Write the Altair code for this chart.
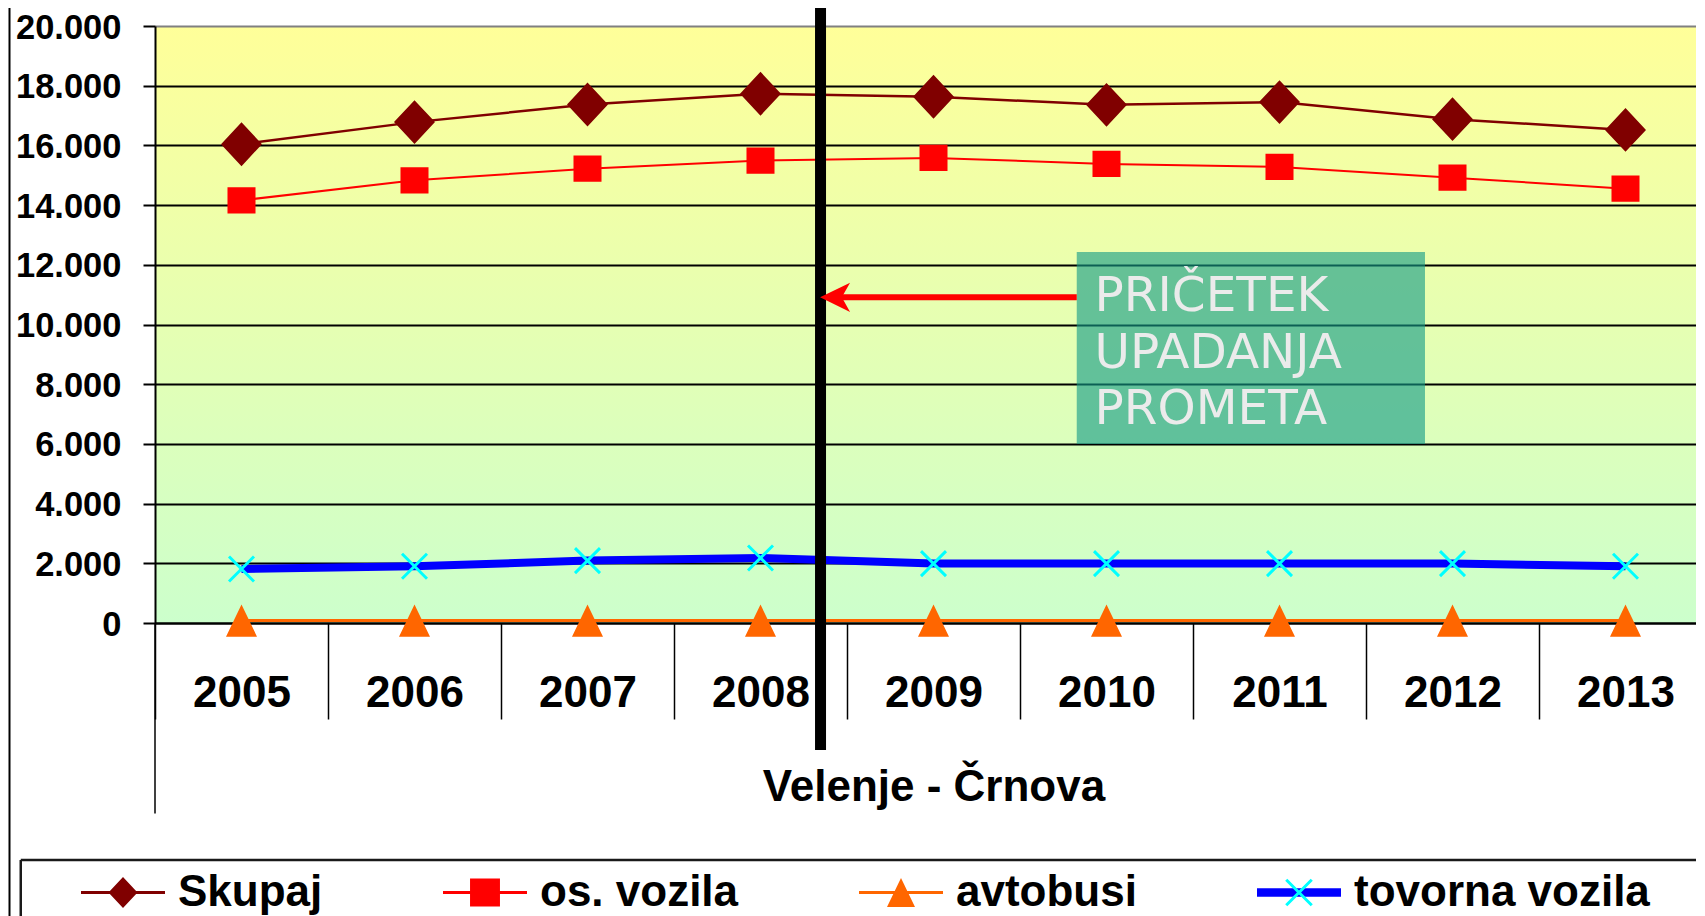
import altair as alt
import pandas as pd

# ---------------- data ----------------
years = ["2005", "2006", "2007", "2008", "2009", "2010", "2011", "2012", "2013"]
series = ["Skupaj", "os. vozila", "avtobusi", "tovorna vozila"]
skupaj = [16040, 16780, 17370, 17730, 17630, 17360, 17450, 16880, 16520]
os_vozila = [14160, 14830, 15220, 15490, 15580, 15380, 15280, 14920, 14550]
avtobusi = [80, 80, 80, 80, 80, 80, 80, 80, 80]
tovorna_vozila = [1810, 1900, 2090, 2180, 1990, 1990, 1990, 1990, 1900]
y_ticks = [0, 2000, 4000, 6000, 8000, 10000, 12000, 14000, 16000, 18000, 20000]
x_title = "Velenje - Črnova"
note_lines = ["PRIČETEK", "UPADANJA", "PROMETA"]

rows = []
for name, vals in zip(series, [skupaj, os_vozila, avtobusi, tovorna_vozila]):
    for yr, v in zip(years, vals):
        rows.append({"leto": yr, "serija": name, "vrednost": v})
df = pd.DataFrame(rows)

# ---------------- style ----------------
FONT = "Liberation Sans"
W, H = 1557, 597
line_colors = ["#800000", "#FF0000", "#FF6600", "#0000FF"]
line_widths = [2.5, 2, 3, 8]
marker_colors = ["#800000", "#FF0000", "#FF6600", "#00FFFF"]

# legend symbol geometry (1 unit = 22 px in the legend)
SPAN = 1.909                               # half length of the legend line swatch
label_reach = [9.058, 11.504, 10.724, 15.948]  # right end of each legend label, in units
guide = f"M{-SPAN},0L{SPAN},0"             # zero-area path part: only widens the bounds


def rect_path(hw, hh):
    return f"M{-hw},{-hh}H{hw}V{hh}H{-hw}Z"


line_paths = [rect_path(SPAN, hh) + f"M{r},0L{r},0"
              for hh, r in zip([0.068, 0.068, 0.068, 0.189], label_reach)]
a, e = 0.58, 0.048
cross = (f"M{-a+e},{-a-e}L{a+e},{a-e}L{a-e},{a+e}L{-a-e},{-a+e}Z"
         f"M{-a-e},{a-e}L{a-e},{-a-e}L{a+e},{-a+e}L{-a+e},{a+e}Z")
marker_paths = [p + guide for p in [
    "M0,-0.705L0.659,0L0,0.705L-0.659,0Z",
    "M-0.68,-0.64H0.68V0.64H-0.68Z",
    "M0,-0.66L0.636,0.66L-0.636,0.66Z",
    cross]]
marker_sizes = [3870, 1697, 2380, 1857]
arrow_path = "M-1,0L1,-0.97L0.45,0L1,0.97Z"

y_scale = alt.Scale(domain=[0, 20000], nice=False, zero=False)
y_axis = alt.Axis(
    title=None, values=y_ticks,
    labelExpr="replace(format(datum.value, ','), ',', '.')",
    labelFont=FONT, labelFontSize=34.5, labelFontWeight="bold", labelColor="black",
    labelPadding=22, labelOffset=2,
    tickSize=12, tickWidth=2, tickColor="black",
    domainColor="black", domainWidth=2,
    grid=True, gridWidth=2,
    gridColor={"condition": {"test": "datum.value === 20000", "value": "#808080"}, "value": "black"},
)
x_scale = alt.Scale(type="band", domain=years, paddingInner=0, paddingOuter=0)
x_axis = alt.Axis(
    title=x_title, labelAngle=0, tickBand="extent", tickSize=96, tickWidth=1.5,
    tickColor="black", domainColor="black", domainWidth=2, grid=False,
    labelFont=FONT, labelFontSize=44, labelFontWeight="bold", labelColor="black",
    labelBaseline="alphabetic", labelPadding=-12.7, labelOverlap=False,
    titleFont=FONT, titleFontSize=44, titleFontWeight="bold", titleColor="black",
    titleBaseline="alphabetic", titleY=177.3,
)
x_enc = alt.X("leto:O", scale=x_scale, axis=x_axis)
y_enc = alt.Y("vrednost:Q", scale=y_scale, axis=y_axis)

LX, LY = -54, 844.5
legend_common = dict(
    orient="none", legendX=LX, legendY=LY, direction="horizontal", title=None,
    padding=0, labelFont=FONT, labelFontSize=44, labelFontWeight="bold",
    labelColor="black", labelLimit=1000, labelOffset=33, columnPadding=120,
    symbolSize=1936, symbolStrokeWidth=0, symbolOpacity=1,
)
legend_a = alt.Legend(labelExpr="''", **legend_common)   # line swatches only
legend_b = alt.Legend(**legend_common)                   # markers + labels

base = alt.Chart(df)
lines = base.mark_line().encode(
    x=x_enc, y=y_enc,
    stroke=alt.Stroke("serija:N", scale=alt.Scale(domain=series, range=line_colors), legend=None),
    strokeWidth=alt.StrokeWidth("serija:N", scale=alt.Scale(type="ordinal", domain=series, range=line_widths), legend=None),
)
# carrier of the legend's line swatches (tiny marks hidden under the markers)
leg_lines = base.mark_point(filled=True, size=4, opacity=1, strokeWidth=0).encode(
    x=x_enc, y=y_enc,
    fill=alt.Fill("serija:N", scale=alt.Scale(domain=series, range=line_colors), legend=legend_a),
    shape=alt.Shape("serija:N", scale=alt.Scale(domain=series, range=line_paths), legend=legend_a),
)
markers = base.mark_point(filled=True, opacity=1, strokeWidth=0).encode(
    x=x_enc, y=y_enc,
    fill=alt.Fill("serija:N", scale=alt.Scale(domain=series, range=marker_colors), legend=legend_b),
    shape=alt.Shape("serija:N", scale=alt.Scale(domain=series, range=marker_paths), legend=legend_b),
    size=alt.Size("serija:N", sort=series, scale=alt.Scale(type="ordinal", range=marker_sizes), legend=None),
)
inner = (
    alt.layer(lines, leg_lines, markers)
    .resolve_scale(fill="independent", shape="independent", size="independent")
    .resolve_legend(fill="independent", shape="independent", size="independent")
)

# ---------------- annotations (x in band units 0..9) ----------------
ann_x = alt.Scale(domain=[0, 9], nice=False, zero=False)


def AX(f):
    return alt.X(f"{f}:Q", scale=ann_x, axis=None)


def AY(f):
    return alt.Y(f"{f}:Q", scale=y_scale, axis=y_axis)


def vrule(x, y, y2, color, width):
    return alt.Chart(pd.DataFrame({"x": [x], "y": [y], "y2": [y2]})).mark_rule(
        color=color, strokeWidth=width).encode(x=AX("x"), y=AY("y"), y2="y2:Q")


def hrule(x, x2, y, color, width):
    return alt.Chart(pd.DataFrame({"x": [x], "x2": [x2], "y": [y]})).mark_rule(
        color=color, strokeWidth=width).encode(x=AX("x"), x2="x2:Q", y=AY("y"))


frame = vrule(-0.841, 21000, -11000, "black", 2)
leg_top = hrule(-0.776, 9.3, -7940, "#1a1a1a", 2.5)
leg_left = vrule(-0.776, -7940, -11000, "#1a1a1a", 2.5)
left_tick = vrule(0, 0, -6380, "black", 1.5)
thick = vrule(3.847, 21000, -4255, "black", 11)
box = alt.Chart(pd.DataFrame({"x": [5.328], "x2": [7.341], "y": [6000], "y2": [12430]})).mark_rect(
    fill="#149B87", opacity=0.62).encode(x=AX("x"), x2="x2:Q", y=AY("y"), y2="y2:Q")
note = alt.Chart(pd.DataFrame({"x": [5.431], "y": [11730]})).mark_text(
    text=note_lines, align="left", baseline="top", font="DejaVu Sans", fontSize=48.5,
    lineHeight=56.8, color="#EBEBEB").encode(x=AX("x"), y=AY("y"))
shaft = hrule(3.965, 5.328, 10910, "#FF0000", 6)
head = alt.Chart(pd.DataFrame({"x": [3.931], "y": [10910]})).mark_point(
    shape=arrow_path, size=900, filled=True, color="#FF0000", opacity=1, strokeWidth=0
).encode(x=AX("x"), y=AY("y"))

ann = alt.layer(frame, leg_top, leg_left, left_tick, thick, box, note, shaft, head)

gradient_expr = alt.ExprRef(expr=(
    "{gradient: 'linear', x1: 0, y1: 0, x2: 0, y2: 1, "
    "stops: [{offset: 0, color: '#FFFF99'}, {offset: 1, color: '#CCFFCC'}]}"
))

chart = (
    alt.layer(inner, ann)
    .resolve_scale(x="independent")
    .properties(
        width=W, height=H, background="white",
        autosize=alt.AutoSizeParams(type="none"),
        padding={"left": 147, "top": 18, "right": -16, "bottom": 300},
    )
    .configure_view(strokeWidth=0, fill=gradient_expr)
)

chart.save("out.html", embed_options={"renderer": "svg", "actions": False})
